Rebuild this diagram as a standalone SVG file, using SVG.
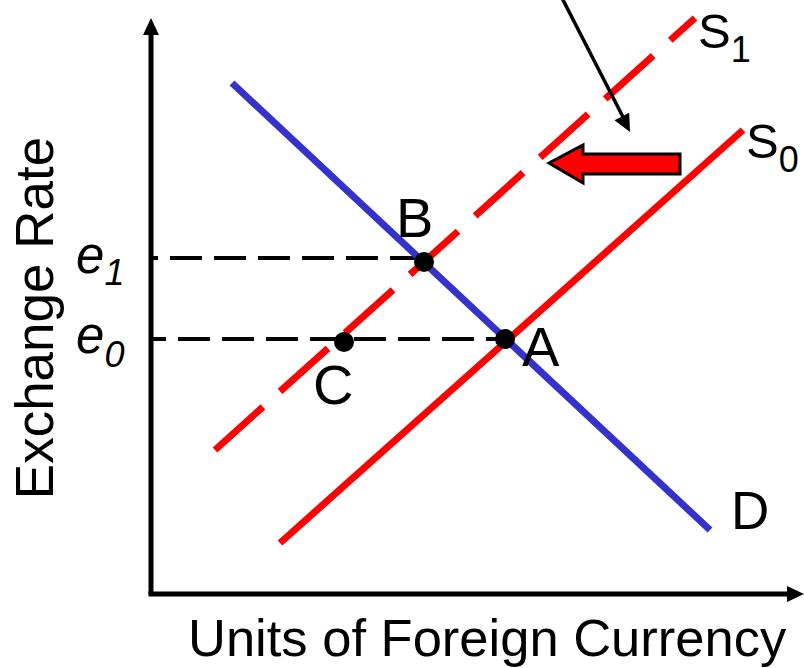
<svg xmlns="http://www.w3.org/2000/svg" width="804" height="668" viewBox="0 0 804 668">
<style>
.lbl{font-family:"Liberation Sans",Arial,sans-serif;fill:#000}
.axis{stroke:#000;stroke-width:5;fill:none}
.guide{stroke:#000;stroke-width:4;fill:none;stroke-dasharray:32 12}
.supply{stroke:#FF0000;stroke-width:7;fill:none}
.demand{stroke:#3333CC;stroke-width:7;fill:none}
.dot{fill:#000}
</style>
<rect width="804" height="668" fill="#fff"/>
<g id="axes">
<line class="axis" x1="151" y1="33" x2="151" y2="594"/>
<line class="axis" x1="148.5" y1="594" x2="790" y2="594"/>
<polygon points="151,18 143,35 159,35" fill="#000"/>
<polygon points="804,594 787,586 787,602" fill="#000"/>
</g>
<g id="connectors">
<line class="guide" x1="151" y1="258" x2="424" y2="258" stroke-dashoffset="25"/>
<line class="guide" x1="151" y1="339" x2="505" y2="339" stroke-dashoffset="17"/>
</g>
<g id="curve-D"><line class="demand" x1="232" y1="83" x2="710" y2="530"/></g>
<g id="curve-S0"><line class="supply" x1="280" y1="543" x2="743" y2="130"/></g>
<g id="curve-S1"><line class="supply" x1="215" y1="450" x2="695" y2="18" stroke-dasharray="64.5 23"/></g>
<g id="point-A"><circle class="dot" cx="505" cy="339" r="10"/><text class="lbl" x="522" y="366" font-size="56">A</text></g>
<g id="point-B"><circle class="dot" cx="424" cy="262" r="10"/><text class="lbl" x="396" y="237" font-size="56">B</text></g>
<g id="point-C"><circle class="dot" cx="344" cy="342" r="10"/><text class="lbl" x="313" y="404" font-size="56">C</text></g>
<g id="label-S1"><text class="lbl" x="698" y="48" font-size="49">S<tspan font-size="36" dy="14">1</tspan></text></g>
<g id="label-S0"><text class="lbl" x="746" y="158" font-size="49">S<tspan font-size="36" dy="14">0</tspan></text></g>
<g id="label-D"><text class="lbl" x="731" y="529" font-size="53">D</text></g>
<g id="label-e1"><text class="lbl" x="76" y="273" font-size="51" font-style="italic">e<tspan font-size="36" dy="12">1</tspan></text></g>
<g id="label-e0"><text class="lbl" x="76" y="353" font-size="51" font-style="italic">e<tspan font-size="36" dy="14">0</tspan></text></g>
<g id="shift-arrow"><polygon points="549,163 583,145 583,154 680,154 680,174 583,174 583,183" fill="#FF0000" stroke="#000" stroke-width="3" stroke-linejoin="miter"/></g>
<g id="pointer">
<line x1="562" y1="-2" x2="623" y2="117" stroke="#000" stroke-width="3.5"/>
<polygon points="630,132 614.5,120.3 629.2,112.8" fill="#000"/>
</g>
<g id="axis-titles">
<text class="lbl" font-size="53" text-anchor="middle" transform="translate(53,318) rotate(-90)">Exchange Rate</text>
<text class="lbl" x="188" y="656" font-size="52.5">Units of Foreign Currency</text>
</g>
</svg>
